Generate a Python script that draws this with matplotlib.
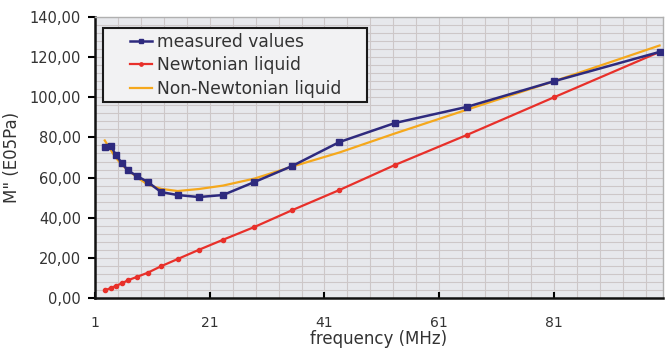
import numpy as np
import matplotlib.pyplot as plt
from matplotlib.patches import Rectangle
from matplotlib.ticker import MultipleLocator, FixedLocator, FuncFormatter

# frequencies (MHz)
freq = [2.7, 3.8, 4.6, 5.7, 6.7, 8.3, 10.2, 12.5, 15.4, 19.1, 23.3, 28.8,
        35.4, 43.6, 53.3, 65.8, 81.0, 99.4]

# M'' (E05Pa)
measured = [75.3, 75.8, 71.3, 67.2, 63.6, 60.8, 57.8, 52.8, 51.3, 50.3, 51.3,
            57.8, 65.8, 77.7, 87.2, 95.2, 108.0, 122.6]
newtonian = [3.8, 5.0, 6.0, 7.3, 8.8, 10.5, 12.6, 15.8, 19.4, 24.0, 29.0,
             35.4, 43.8, 53.8, 66.3, 81.2, 100.0, 122.6]
non_newtonian = [78.5, 73.5, 70.0, 66.3, 63.8, 60.2, 56.5, 54.4, 53.3, 54.3,
                 56.0, 59.5, 65.5, 72.5, 82.0, 93.8, 108.0, 125.8]

xticks = [1, 21, 41, 61, 81]

plt.rcParams['font.family'] = ['DejaVu Sans']
txt = '#333333'

fig = plt.figure(figsize=(6.72, 3.49), dpi=100)
ax = fig.add_axes([95/672, 1-298/349, 568/672, 281/349])
ax.set_facecolor('#e7e8ec')

ax.plot(freq, newtonian, color='#e8302a', lw=1.6, marker='o', ms=3,
        label='Newtonian liquid', zorder=3)
ax.plot(freq, non_newtonian, color='#f5a81c', lw=1.6,
        label='Non-Newtonian liquid', zorder=3)
ax.plot(freq, measured, color='#2e2a7e', lw=1.8, marker='s', ms=4,
        label='measured values', zorder=4)

ax.set_xlim(1, 100)
ax.set_ylim(0, 140)
ax.xaxis.set_major_locator(FixedLocator(xticks))
ax.xaxis.set_minor_locator(FixedLocator(np.arange(5, 100, 4)))
ax.yaxis.set_major_locator(MultipleLocator(20))
ax.yaxis.set_minor_locator(MultipleLocator(4))
ax.yaxis.set_major_formatter(FuncFormatter(lambda v, p: f'{v:.2f}'.replace('.', ',')))

ax.grid(which='both', color='#cdc7c8', lw=0.8)
ax.set_axisbelow(True)
ax.tick_params(axis='x', which='major', direction='in', length=4, width=1.5,
               pad=13, labelsize=10, labelcolor=txt)
ax.tick_params(axis='x', which='minor', length=0)
ax.tick_params(axis='y', which='major', direction='out', length=5, width=1.5,
               pad=5, labelsize=10.5, labelcolor=txt)
ax.tick_params(axis='y', which='minor', length=0)

for s in ['left', 'bottom']:
    ax.spines[s].set_color('#111111')
    ax.spines[s].set_linewidth(1.8)
for s in ['top', 'right']:
    ax.spines[s].set_color('#b0b0b0')
    ax.spines[s].set_linewidth(1.0)

ax.set_xlabel('frequency (MHz)', fontsize=12, color=txt, labelpad=0)
ax.set_ylabel('M" (E05Pa)', fontsize=12, color=txt, labelpad=6)

# legend box drawn separately so the padding can be wider left/right
ax.add_patch(Rectangle((103/672, 1-102/349), 264/672, 74/349,
                       transform=fig.transFigure, facecolor='#f2f2f3',
                       edgecolor='#1a1a1a', lw=1.5, zorder=5, clip_on=False))

h, l = ax.get_legend_handles_labels()
order = [2, 0, 1]
leg = ax.legend([h[i] for i in order], [l[i] for i in order],
                loc='upper left', bbox_to_anchor=(130/672, 1-33/349),
                bbox_transform=fig.transFigure, borderaxespad=0,
                fontsize=12.3, handlelength=1.3, handletextpad=0.3,
                labelspacing=0.32, borderpad=0, frameon=False, markerscale=0.8)
leg.set_zorder(6)
for t in leg.get_texts():
    t.set_color(txt)

fig.savefig('out.png', dpi=100)
